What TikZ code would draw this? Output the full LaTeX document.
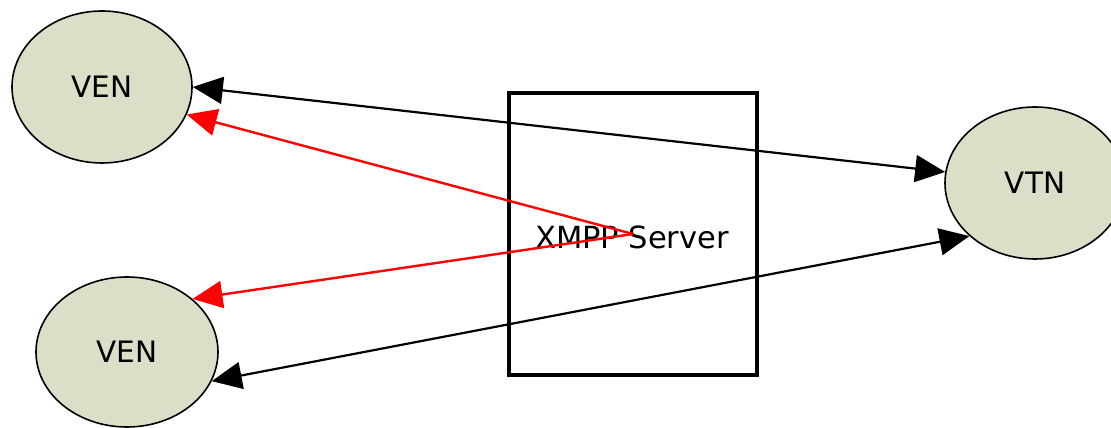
\documentclass[tikz,border=0pt]{standalone}
\usepackage{fontspec}
\setmainfont{DejaVu Sans}
\usetikzlibrary{arrows.meta,shapes.geometric}
\definecolor{nodefill}{RGB}{219,223,200}
\tikzset{
  ennode/.style={ellipse, draw=black, line width=1.6pt, fill=nodefill, inner sep=0pt, font=\fontsize{29.5}{32}\selectfont},
  srvbox/.style={rectangle, draw=black, line width=3.2pt, inner sep=0pt, minimum width=248pt, minimum height=282pt},
  tipstyle/.style={},
  blkedge/.style={line width=2.2pt, black, {Triangle[length=30pt,width=27pt]}-{Triangle[length=30pt,width=27pt]}},
  rededge/.style={line width=2.4pt, red, -{Triangle[length=30pt,width=27pt]}}
}
\begin{document}
\begin{tikzpicture}[x=1pt,y=1pt]
\useasboundingbox (0,0) rectangle (1111,428);
\clip (0,0) rectangle (1111,428);
\node[srvbox] (srv) at (633,194) {};
\node at (632,191) (srvlabel) {\fontsize{30.5}{33}\selectfont XMPP Server};
\node[ennode, minimum width=180pt, minimum height=152pt] (ven1) at (102,341) {VEN};
\node[ennode, minimum width=182pt, minimum height=150pt] (ven2) at (127,76) {VEN};
\node[ennode, minimum width=180pt, minimum height=152pt] (vtn) at (1035,245) {VTN};
\draw[blkedge] (ven1.0) -- (vtn.173);
\draw[blkedge] (ven2.-19) -- (vtn.219.5);
\draw[rededge] (srv.center) -- (ven1.-18);
\draw[rededge] (srv.center) -- (ven2.39);
\end{tikzpicture}
\end{document}
